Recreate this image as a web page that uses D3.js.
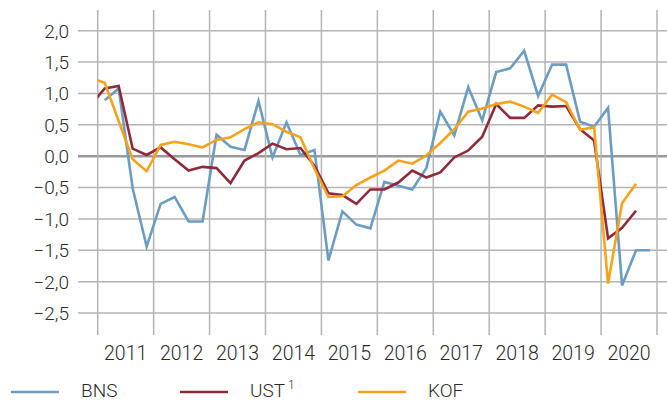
<!DOCTYPE html>
<html>
<head>
<meta charset="utf-8">
<script src="https://d3js.org/d3.v7.min.js"></script>
<style>
  body { margin: 0; background: #fff; }
  text { font-family: Roboto, "Noto Sans", sans-serif; font-weight: 300; fill: #2b2b2b; }
  .grid line { stroke: #b4b4b4; stroke-width: 1.5; }
  .line { fill: none; stroke-width: 2.6; stroke-linejoin: miter; }
</style>
</head>
<body>
<script>
// Data // ----------------------------------------------------------------------
// quarters from 2010 Q4 to 2020 Q4 (plotted at quarter middle)
var quarters = d3.range(41).map(function(i) {
  var n = 3 + i; // 2010 Q4 = index 3 of 2010
  return { year: 2010 + Math.floor(n / 4), q: (n % 4) + 1 };
});

var bns = [null,
  0.89, 1.08, -0.51, -1.44,   -0.76, -0.65, -1.04, -1.04,
  0.34, 0.15, 0.10, 0.88,     -0.02, 0.54, 0.02, 0.10,
  -1.66, -0.88, -1.09, -1.15, -0.41, -0.47, -0.53, -0.19,
  0.71, 0.33, 1.10, 0.57,     1.34, 1.40, 1.68, 0.96,
  1.46, 1.46, 0.55, 0.47,     0.77, -2.06, -1.50, -1.50];

var ust = [0.81,
  1.08, 1.12, 0.12, 0.02,     0.14, -0.05, -0.23, -0.17,
  -0.19, -0.43, -0.07, 0.05,  0.20, 0.11, 0.13, -0.15,
  -0.59, -0.62, -0.76, -0.53, -0.53, -0.42, -0.23, -0.34,
  -0.26, -0.02, 0.09, 0.31,   0.83, 0.61, 0.61, 0.81,
  0.79, 0.80, 0.43, 0.25,     -1.31, -1.14, -0.87, null];

var kof = [1.25,
  1.17, 0.56, -0.05, -0.24,   0.18, 0.23, 0.19, 0.14,
  0.26, 0.30, 0.43, 0.54,     0.51, 0.39, 0.30, -0.20,
  -0.65, -0.64, -0.46, -0.34, -0.23, -0.07, -0.12, 0.01,
  0.21, 0.43, 0.71, 0.76,     0.83, 0.87, 0.79, 0.69,
  0.98, 0.86, 0.42, 0.46,     -2.03, -0.75, -0.44, null];

var yTicks = [2, 1.5, 1, 0.5, 0, -0.5, -1, -1.5, -2, -2.5];
var years = d3.range(2011, 2022);

var series = [
  { name: "BNS", sup: "", values: bns, color: "#6b9dc2" },
  { name: "UST", sup: "1", values: ust, color: "#8f2a3b" },
  { name: "KOF", sup: "", values: kof, color: "#f7a21c" }
];

// Setup // ---------------------------------------------------------------------
var W = 667, H = 403;
var plot = { left: 97.7, right: 657, top: 10, bottom: 335 };

var x = d3.scaleLinear().domain([2011, 2021]).range([plot.left, plot.right]),
    y = d3.scaleLinear().domain([-2.85, 2.33]).range([plot.bottom, plot.top]);

var fmt = function(v) { return d3.format(".1f")(v).replace(".", ",").replace("-", "\u2013"); };

var svg = d3.select("body").append("svg")
    .attr("width", W)
    .attr("height", H);

svg.append("defs").append("clipPath")
    .attr("id", "clip")
  .append("rect")
    .attr("x", plot.left).attr("y", 0)
    .attr("width", W - plot.left).attr("height", H);

// Grid // ----------------------------------------------------------------------
var grid = svg.append("g").attr("class", "grid");

grid.selectAll(".h")
    .data(yTicks)
  .enter().append("line")
    .attr("x1", 78).attr("x2", W)
    .attr("y1", function(d) { return y(d); })
    .attr("y2", function(d) { return y(d); })
    .style("stroke", function(d) { return d === 0 ? "#999" : null; })
    .style("stroke-width", function(d) { return d === 0 ? 2.5 : null; });

grid.selectAll(".v")
    .data(years)
  .enter().append("line")
    .attr("x1", function(d) { return x(d); })
    .attr("x2", function(d) { return x(d); })
    .attr("y1", plot.top).attr("y2", plot.bottom);

// y labels
svg.selectAll(".ylab")
    .data(yTicks)
  .enter().append("text")
    .attr("x", 69)
    .attr("y", function(d) { return y(d); })
    .attr("dy", "0.36em")
    .attr("text-anchor", "end")
    .style("font-size", "19px")
    .text(fmt);

// x labels, centered in each year
svg.selectAll(".xlab")
    .data(years.slice(0, -1))
  .enter().append("text")
    .attr("x", function(d) { return x(d + 0.5); })
    .attr("y", 360)
    .attr("text-anchor", "middle")
    .style("font-size", "19.5px")
    .text(function(d) { return d; });

// Lines // ---------------------------------------------------------------------
var valueLine = d3.line()
    .defined(function(d) { return d.v !== null; })
    .x(function(d) { return x(d.year + (d.q - 0.5) / 4); })
    .y(function(d) { return y(d.v); });

svg.append("g")
    .attr("clip-path", "url(#clip)")
  .selectAll("path")
    .data(series)
  .enter().append("path")
    .attr("class", "line")
    .attr("stroke", function(s) { return s.color; })
    .attr("d", function(s) {
      return valueLine(quarters.map(function(qq, i) {
        return { year: qq.year, q: qq.q, v: s.values[i] };
      }));
    });

// Legend // --------------------------------------------------------------------
var legendX = [11, 180, 358];
var leg = svg.selectAll(".leg")
    .data(series)
  .enter().append("g")
    .attr("transform", function(d, i) { return "translate(" + legendX[i] + ",392)"; });

leg.append("line")
    .attr("x1", 0).attr("x2", 48)
    .attr("stroke", function(d) { return d.color; })
    .attr("stroke-width", 2.6);

var lt = leg.append("text")
    .attr("x", 70)
    .attr("y", 5)
    .style("font-size", "19px")
    .text(function(d) { return d.name; });

lt.append("tspan")
    .attr("dx", 3)
    .attr("dy", -8)
    .style("font-size", "12px")
    .text(function(d) { return d.sup; });
</script>
</body>
</html>
